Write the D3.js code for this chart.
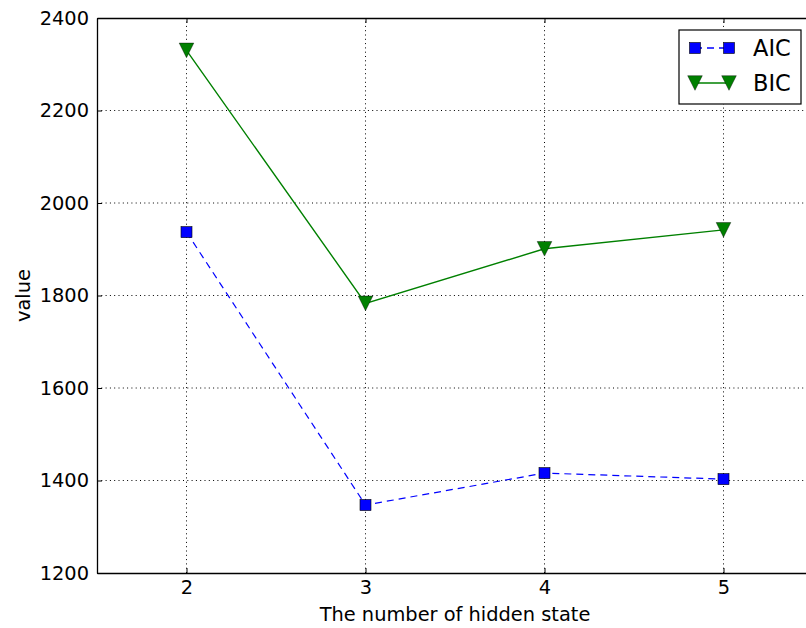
<!DOCTYPE html>
<html>
<head>
<meta charset="utf-8">
<script src="https://cdn.jsdelivr.net/npm/d3@7"></script>
<style>
  body { margin: 0; background: #fff; }
  text { font-family: "DejaVu Sans", sans-serif; }
</style>
</head>
<body>
<script>
// values
let states = [2, 3, 4, 5];
let aic = [1937, 1347, 1416, 1403];
let bic = [2330, 1783, 1901, 1942];
let x_ticks = [2, 3, 4, 5];
let y_ticks = [1200, 1400, 1600, 1800, 2000, 2200, 2400];

let width = 806, height = 628;
let margin = { top: 18, right: -7, bottom: 55, left: 97 };
let fs = 19.4;

let svg = d3.select("body")
  .append("svg")
    .attr("width", width)
    .attr("height", height);

let x = d3.scaleLinear()
  .domain([1.5, 5.5])
  .range([margin.left, width - margin.right]);
let y = d3.scaleLinear()
  .domain([1200, 2400])
  .range([height - margin.bottom, margin.top]);

// grid
let grid = svg.append("g").attr("stroke", "#000").attr("stroke-width", 1).attr("stroke-dasharray", "1,3.3");
x_ticks.forEach(t => {
  grid.append("line").attr("x1", x(t)).attr("x2", x(t)).attr("y1", y(1200)).attr("y2", y(2400));
});
y_ticks.slice(1, -1).forEach(t => {
  grid.append("line").attr("x1", x(1.5)).attr("x2", x(5.5)).attr("y1", y(t)).attr("y2", y(t));
});

// lines
let line = d3.line().x((d, i) => x(states[i])).y(d => y(d));
svg.append("path").datum(aic).attr("d", line)
  .attr("fill", "none").attr("stroke", "#0000ff").attr("stroke-width", 1.2).attr("stroke-dasharray", "7,5");
svg.append("path").datum(bic).attr("d", line)
  .attr("fill", "none").attr("stroke", "#008000").attr("stroke-width", 1.4);

// markers
let sq = 11;
svg.selectAll("rect.aic").data(aic).join("rect").attr("class", "aic")
  .attr("x", (d, i) => x(states[i]) - sq / 2).attr("y", d => y(d) - sq / 2)
  .attr("width", sq).attr("height", sq)
  .attr("fill", "#0000ff").attr("stroke", "#000").attr("stroke-width", 0.6);

function tri(cx, cy, r) {
  return `M${cx - r},${cy - r}L${cx + r},${cy - r}L${cx},${cy + r}Z`;
}
svg.selectAll("path.bic").data(bic).join("path").attr("class", "bic")
  .attr("d", (d, i) => tri(x(states[i]), y(d), 7.3))
  .attr("fill", "#008000").attr("stroke", "#000").attr("stroke-width", 0.4);

// axes frame + inward ticks
let axis_x = svg.append("g").attr("transform", `translate(0,${y(1200)})`)
  .call(d3.axisBottom(x).tickValues(x_ticks).tickFormat(d3.format("d")).tickSizeInner(-5).tickSizeOuter(0).tickPadding(7));
let axis_y = svg.append("g").attr("transform", `translate(${x(1.5)},0)`)
  .call(d3.axisLeft(y).tickValues(y_ticks).tickFormat(d3.format("d")).tickSizeInner(-5).tickSizeOuter(0).tickPadding(8));
svg.append("g").attr("transform", `translate(0,${y(2400)})`)
  .call(d3.axisTop(x).tickValues(x_ticks).tickSizeInner(-5).tickSizeOuter(0).tickFormat(""));
[axis_x, axis_y].forEach(a => {
  a.selectAll("text").attr("font-size", fs).attr("font-family", "DejaVu Sans").attr("fill", "#000");
  a.selectAll("path, line").attr("stroke", "#000");
});
svg.selectAll(".domain").attr("stroke-width", 1.3);
axis_x.selectAll("text").attr("dy", "0.71em");

// axis labels
svg.append("text").text("The number of hidden state")
  .attr("x", (x(1.5) + x(5.5)) / 2).attr("y", 621)
  .attr("text-anchor", "middle").attr("font-size", fs);
svg.append("text").text("value")
  .attr("transform", `translate(30,${(y(1200) + y(2400)) / 2}) rotate(-90)`)
  .attr("text-anchor", "middle").attr("font-size", fs);

// legend
let leg = svg.append("g").attr("transform", "translate(679,30)");
leg.append("rect").attr("width", 122).attr("height", 74)
  .attr("fill", "#fff").attr("stroke", "#000").attr("stroke-width", 1.2);
let entries = [
  { name: "AIC", color: "#0000ff", dash: "7,5", shape: "sq", yy: 18 },
  { name: "BIC", color: "#008000", dash: null, shape: "tri", yy: 53 }
];
entries.forEach(e => {
  leg.append("line").attr("x1", 16).attr("x2", 50).attr("y1", e.yy).attr("y2", e.yy)
    .attr("stroke", e.color).attr("stroke-width", 1.3).attr("stroke-dasharray", e.dash);
  [16, 50].forEach(px => {
    if (e.shape == "sq") {
      leg.append("rect").attr("x", px - sq / 2).attr("y", e.yy - sq / 2).attr("width", sq).attr("height", sq)
        .attr("fill", e.color).attr("stroke", "#000").attr("stroke-width", 0.6);
    } else {
      leg.append("path").attr("d", tri(px, e.yy, 7.3)).attr("fill", e.color).attr("stroke", "#000").attr("stroke-width", 0.4);
    }
  });
  leg.append("text").text(e.name).attr("x", 74).attr("y", e.yy + 8).attr("font-size", 22.5);
});
</script>
</body>
</html>
